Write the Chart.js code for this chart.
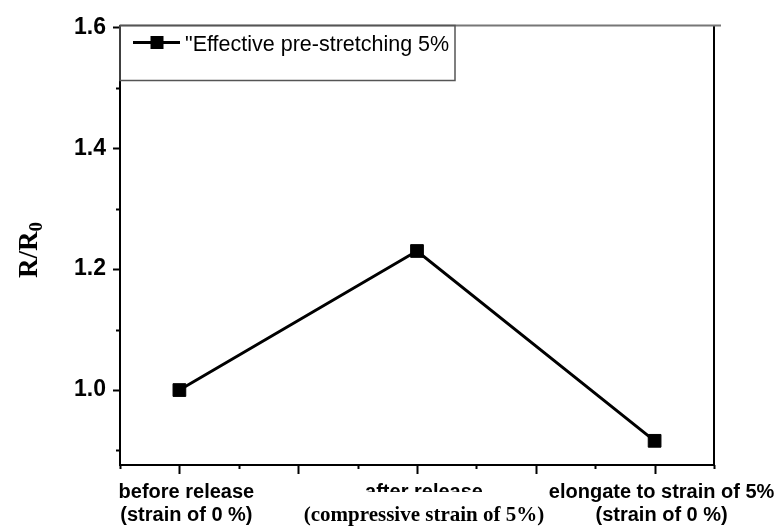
<!DOCTYPE html>
<html>
<head>
<meta charset="utf-8">
<script src="https://cdn.jsdelivr.net/npm/chart.js@4/dist/chart.umd.min.js"></script>
<style>
  html, body { margin: 0; padding: 0; background: #fff; }
  #wrap { width: 783px; height: 528px; position: relative; }
</style>
</head>
<body>
<div id="wrap"><canvas id="ratioChart"></canvas></div>
<script>
// data
const categoryTop = ["before release", "after release", "elongate to strain of 5%"];
const categoryBottom = ["(strain of 0 %)", "(compressive strain of 5%)", "(strain of 0 %)"];
const xPositions = [1, 2, 3];
const ratioValues = [1.0, 1.23, 0.916];
const yTickLabels = ["1.0", "1.2", "1.4", "1.6"];
const seriesLabel = "\"Effective pre-stretching 5%";

const SANS = "'Liberation Sans', Arial, sans-serif";
const SERIF = "'Liberation Serif', 'Times New Roman', serif";

// axes, tick marks, legend box and two-line labels (Origin style)
const originFrame = {
  id: "originFrame",
  afterDraw(chart) {
    const ctx = chart.ctx;
    const a = chart.chartArea;
    const xs = chart.scales.x, ys = chart.scales.y;
    ctx.save();
    ctx.strokeStyle = "#000";
    ctx.lineWidth = 2;

    // y tick marks (major every 0.2, minor between)
    ys.ticks.forEach(t => {
      const y = Math.round(ys.getPixelForValue(t.value)) + 0.5;
      const major = Math.round(t.value * 10) % 2 === 0;
      ctx.beginPath();
      ctx.moveTo(a.left, y);
      ctx.lineTo(a.left - (major ? 7 : 4), y);
      ctx.stroke();
    });
    // x tick marks (major every 0.5, minor between)
    xs.ticks.forEach(t => {
      const x = Math.round(xs.getPixelForValue(t.value)) + 0.5;
      const major = Math.abs(t.value * 2 - Math.round(t.value * 2)) < 1e-6;
      ctx.beginPath();
      ctx.moveTo(x, a.bottom);
      ctx.lineTo(x, a.bottom + (major ? 9 : 4));
      ctx.stroke();
    });

    // right border and top border
    ctx.beginPath();
    ctx.moveTo(a.right, a.top);
    ctx.lineTo(a.right, a.bottom + 1);
    ctx.stroke();
    ctx.strokeStyle = "#777";
    ctx.beginPath();
    ctx.moveTo(a.left, a.top);
    ctx.lineTo(a.right + 7, a.top);
    ctx.stroke();

    // legend box
    ctx.strokeStyle = "#555";
    ctx.lineWidth = 1.5;
    ctx.strokeRect(a.left, a.top, 335, 55);
    ctx.strokeStyle = "#000";
    ctx.lineWidth = 3;
    ctx.beginPath();
    ctx.moveTo(a.left + 13, a.top + 17);
    ctx.lineTo(a.left + 60, a.top + 17);
    ctx.stroke();
    ctx.fillStyle = "#000";
    ctx.fillRect(a.left + 30.5, a.top + 10.5, 13, 13);
    ctx.font = "21.5px " + SANS;
    ctx.textAlign = "left";
    ctx.textBaseline = "alphabetic";
    ctx.fillText(chart.data.datasets[0].label, a.left + 65, a.top + 25);

    // x category labels
    ctx.textAlign = "center";
    xPositions.forEach((v, i) => {
      const x = xs.getPixelForValue(v) + 7;
      ctx.font = "bold 20px " + SANS;
      if (i === 1) {
        ctx.save();
        ctx.beginPath();
        ctx.rect(x - 150, 470, 300, 22);
        ctx.clip();
        ctx.fillText(categoryTop[i], x, 498);
        ctx.restore();
        ctx.font = "bold 21px " + SERIF;
        ctx.fillText(categoryBottom[i], x, 521);
      } else {
        ctx.fillText(categoryTop[i], x, 498);
        ctx.fillText(categoryBottom[i], x, 521);
      }
    });

    // y axis title R/R0
    ctx.translate(37, 250);
    ctx.rotate(-Math.PI / 2);
    ctx.font = "bold 27px " + SERIF;
    const w1 = ctx.measureText("R/R").width;
    ctx.font = "bold 19px " + SERIF;
    const w2 = ctx.measureText("0").width;
    const start = -(w1 + w2) / 2;
    ctx.textAlign = "left";
    ctx.font = "bold 27px " + SERIF;
    ctx.fillText("R/R", start, 0);
    ctx.font = "bold 19px " + SERIF;
    ctx.fillText("0", start + w1, 5);
    ctx.restore();
  }
};

new Chart(document.getElementById("ratioChart"), {
  type: "line",
  data: {
    datasets: [{
      label: seriesLabel,
      data: xPositions.map((x, i) => ({ x: x, y: ratioValues[i] })),
      borderColor: "#000",
      borderWidth: 3,
      backgroundColor: "#000",
      pointStyle: "rect",
      pointRadius: 9,
      pointBorderWidth: 1,
      pointBorderColor: "#000",
      pointBackgroundColor: "#000",
      tension: 0
    }]
  },
  options: {
    responsive: true,
    maintainAspectRatio: false,
    animation: false,
    layout: { padding: { left: 0, top: 25, right: 69, bottom: 0 } },
    plugins: { legend: { display: false }, tooltip: { enabled: false } },
    scales: {
      x: {
        type: "linear",
        min: 0.75,
        max: 3.25,
        afterFit: s => { s.height = 63; },
        grid: { display: false, drawTicks: false },
        border: { display: true, color: "#000", width: 2 },
        ticks: { display: false, stepSize: 0.25, includeBounds: false }
      },
      y: {
        min: 0.876,
        max: 1.603,
        afterFit: s => { s.width = 120; },
        grid: { display: false, drawTicks: false },
        border: { display: true, color: "#000", width: 2 },
        ticks: {
          stepSize: 0.1,
          includeBounds: false,
          padding: 14,
          color: "#000",
          font: { family: SANS, size: 23, weight: "bold", lineHeight: 1 },
          callback: v => {
            const lbl = v.toFixed(1);
            return yTickLabels.includes(lbl) ? lbl : "";
          }
        }
      }
    }
  },
  plugins: [originFrame]
});
</script>
</body>
</html>
